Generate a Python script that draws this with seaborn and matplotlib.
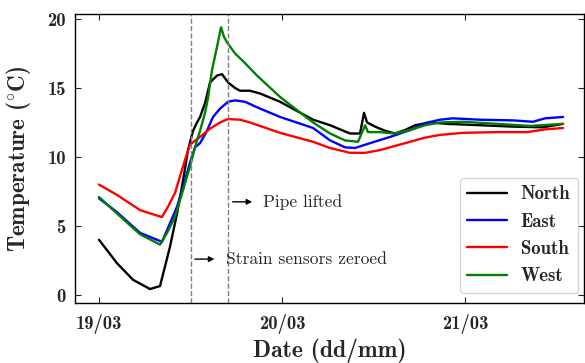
import matplotlib
matplotlib.use("Agg")
import matplotlib.pyplot as plt
import seaborn as sns
import pandas as pd
from matplotlib.lines import Line2D

# ---- data (hours since 19/03 00:00, temperature in °C) ----
north_t = [0, 2.36, 4.46, 6.69, 8.0, 9.31, 10.23, 11.02, 11.67, 12.33, 12.85, 13.25, 13.9,
           14.56, 15.48, 16.13, 16.92, 17.84, 18.49, 19.8, 21.11, 23.74, 28.07, 30.3, 32.92,
           34.23, 34.75, 35.15, 36.2, 37.51, 38.82, 40.13, 41.44, 43.41, 45.64, 49.97, 54.3,
           58.23, 60.85]
north_v = [4.0, 2.3, 1.1, 0.43, 0.65, 3.5, 5.9, 8.3, 10.5, 11.9, 12.5, 12.9, 13.9,
           15.4, 15.9, 16.0, 15.4, 15.0, 14.8, 14.8, 14.6, 14.0, 12.7, 12.3, 11.7,
           11.7, 13.2, 12.5, 12.2, 11.9, 11.7, 11.95, 12.3, 12.5, 12.4, 12.3, 12.2,
           12.15, 12.4]

east_t = [0, 2.36, 5.38, 8.26, 9.31, 10.23, 11.02, 11.93, 12.59, 13.25, 14.16, 14.95, 15.87,
          16.92, 17.84, 19.15, 20.72, 23.74, 28.07, 30.3, 32.26, 33.57, 35.54, 38.16, 40.79,
          42.75, 44.72, 46.43, 49.97, 54.3, 56.92, 58.49, 60.85]
east_v = [7.0, 6.0, 4.5, 3.85, 5.2, 6.4, 7.8, 9.6, 10.7, 11.0, 11.9, 12.9, 13.5,
          14.0, 14.1, 14.0, 13.6, 12.9, 12.1, 11.2, 10.7, 10.65, 11.0, 11.45, 11.95,
          12.45, 12.7, 12.8, 12.7, 12.65, 12.55, 12.8, 12.9]

south_t = [0, 2.36, 5.38, 7.34, 8.26, 9.05, 9.97, 10.62, 11.28, 11.93, 13.25, 14.56,
           15.87, 16.92, 18.49, 19.8, 21.11, 23.74, 28.07, 30.3, 32.92, 34.89, 36.85, 38.82,
           40.79, 42.75, 44.72, 47.74, 52.2, 56.13, 58.49, 60.85]
south_v = [8.0, 7.25, 6.15, 5.8, 5.65, 6.4, 7.4, 8.6, 9.8, 10.9, 11.45, 12.05,
           12.5, 12.75, 12.7, 12.5, 12.25, 11.75, 11.1, 10.65, 10.3, 10.3, 10.5, 10.8,
           11.1, 11.4, 11.6, 11.75, 11.8, 11.8, 12.0, 12.1]

west_t = [0, 2.36, 5.38, 8.0, 8.92, 9.97, 11.02, 11.93, 12.59, 12.85, 13.25, 13.9, 14.3,
          14.82, 15.48, 16.0, 16.39, 16.79, 17.84, 19.15, 20.72, 23.74, 28.07, 30.3, 32.26,
          33.97, 34.89, 35.28, 36.85, 38.82, 40.79, 42.75, 44.72, 47.74, 52.2, 56.52, 60.85]
west_v = [7.1, 5.9, 4.4, 3.65, 4.5, 5.65, 7.6, 9.3, 10.7, 11.2, 11.9, 13.2, 14.3,
          16.3, 18.0, 19.4, 18.7, 18.3, 17.5, 16.8, 15.9, 14.35, 12.5, 11.7, 11.2,
          11.1, 12.3, 11.8, 11.8, 11.7, 11.95, 12.3, 12.5, 12.55, 12.4, 12.25, 12.4]

sensors = ["North", "East", "South", "West"]
colors = ["black", "blue", "red", "green"]

xtick_pos = [0, 24, 48]
xtick_labels = ["19/03", "20/03", "21/03"]
ytick_pos = [0, 5, 10, 15, 20]

event_times = [12.0, 16.96]
event_labels = ["Strain sensors zeroed", "Pipe lifted"]
event_label_y = [2.6, 6.75]

frames = []
for name, t, v in zip(sensors, [north_t, east_t, south_t, west_t],
                      [north_v, east_v, south_v, west_v]):
    frames.append(pd.DataFrame({"hours": t, "temp": v, "sensor": name}))
df = pd.concat(frames, ignore_index=True)

sns.set_style("ticks")
plt.rcParams["mathtext.fontset"] = "cm"
plt.rcParams["axes.unicode_minus"] = False

fig = plt.figure(figsize=(5.85, 3.63), dpi=100)
ax = fig.add_axes([75 / 585, 1 - 302.7 / 363, (584 - 75) / 585, (302.7 - 14) / 363])

sns.lineplot(data=df, x="hours", y="temp", hue="sensor", hue_order=sensors,
             palette=colors, estimator=None, sort=False, linewidth=1.7, ax=ax,
             legend=False)

for xv in event_times:
    ax.axvline(xv, color="gray", linestyle="--", linewidth=1.0)

for xv, lab, yv in zip(event_times, event_labels, event_label_y):
    ax.annotate("", xy=(xv + 3.5, yv), xytext=(xv + 0.2, yv),
                arrowprops=dict(arrowstyle="-|>", color="black", lw=1.0,
                                mutation_scale=8))
    ax.text(xv + 4.6, yv, lab, fontfamily="cmr10", fontsize=12.6,
            va="center", ha="left")

ax.set_xlim(-3.15, 63.6)
ax.set_ylim(-0.56, 20.36)
ax.set_xticks(xtick_pos)
ax.set_xticklabels(xtick_labels)
ax.set_yticks(ytick_pos)

for lab in ax.get_xticklabels() + ax.get_yticklabels():
    lab.set_fontfamily("cmb10")
    lab.set_fontsize(13.4)

ax.tick_params(direction="in", top=True, right=True, length=4, width=0.8)
ax.tick_params(axis="x", pad=8)
ax.tick_params(axis="y", pad=6.5)
for sp in ax.spines.values():
    sp.set_visible(True)
    sp.set_linewidth(1.0)
    sp.set_color("black")

ax.set_xlabel("Date (dd/mm)", fontfamily="cmb10", fontsize=17)
ax.set_ylabel("Temperature ($^{\\circ}$C)", fontfamily="cmb10", fontsize=16.7)
ax.xaxis.set_label_coords(0.5, -0.125)
ax.yaxis.set_label_coords(-0.0825, 0.50)

handles = [Line2D([0], [0], color=c, lw=1.7) for c in colors]
leg = ax.legend(handles, sensors, loc="lower right", bbox_to_anchor=(0.988, 0.034),
                borderaxespad=0, frameon=True, fancybox=True, handlelength=2.1,
                handletextpad=0.75, prop={"family": "cmb10", "size": 13.5})
leg.get_frame().set_edgecolor("#cccccc")

fig.savefig("out.png", dpi=100)
